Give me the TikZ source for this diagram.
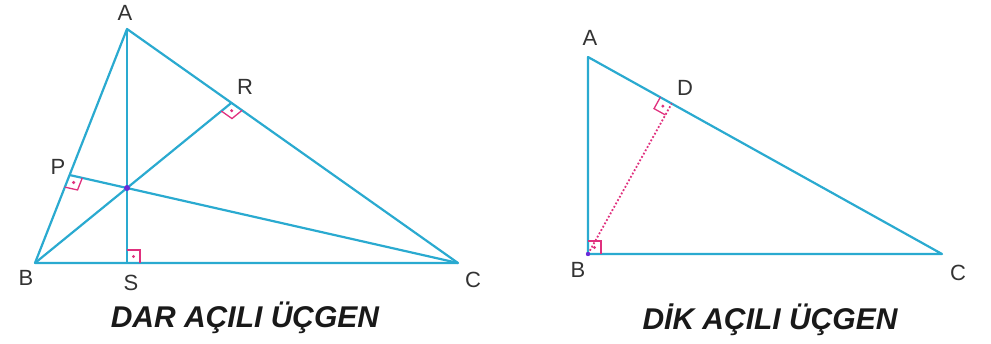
\documentclass[tikz,border=0pt]{standalone}
\usepackage{fontspec}
\setmainfont{Liberation Sans}
\usetikzlibrary{calc}
\definecolor{lineblue}{HTML}{2AAAD0}
\definecolor{markpink}{HTML}{E0307E}
\definecolor{dotpurple}{HTML}{6A2BD9}

\begin{document}
\begin{tikzpicture}[x=1pt,y=-1pt,
  side/.style={lineblue,line width=2.2pt,line join=round},
  anglemark/.style={markpink,line width=1.3pt},
  lbl/.style={font=\fontsize{22}{22}\selectfont,text=black!80},
  caption/.style={font=\fontsize{30}{30}\selectfont\bfseries\itshape,text=black!90}]
\useasboundingbox (0,0) rectangle (991,343);
% acute triangle
\coordinate (A) at (127,29);
\coordinate (B) at (35,263);
\coordinate (C) at (458,263);
\coordinate (H) at (127,188);
\coordinate (S) at (127,263);
\coordinate (R) at (intersection of B--H and A--C);
\coordinate (P) at (intersection of C--H and A--B);
\draw[side] (A)--(B)--(C)--cycle;
\draw[side] (A)--(S);
\draw[side] (B)--(R);
\draw[side] (C)--(P);
% right triangle
\coordinate (A2) at (588,57);
\coordinate (B2) at (588,254);
\coordinate (C2) at (942,254);
\coordinate (D) at ($(A2)!(B2)!(C2)$);
\draw[side] (A2)--(B2)--(C2)--cycle;
\draw[markpink,dotted,line width=1.8pt] (B2)--(D);
% right angle marks
\foreach \v/\p/\q in {S/A/C,P/B/C,R/B/C,B2/A2/C2,D/A2/B2}{
  \coordinate (m1) at ($(\v)!13pt!(\p)$);
  \coordinate (m2) at ($(\v)!13pt!(\q)$);
  \coordinate (m3) at ($(m1)+(m2)-(\v)$);
  \draw[anglemark] (m1)--(m3)--(m2);
  \fill[markpink] ($(\v)!0.5!(m3)$) circle (1.7);
}
\fill[dotpurple] (H) circle (3);
\fill[dotpurple] (B2) circle (2.2);
% labels
\node[lbl] (lA) at (125,13) {A};
\node[lbl] (lB) at (26,278) {B};
\node[lbl] (lC) at (473,280) {C};
\node[lbl] (lS) at (131,283) {S};
\node[lbl] (lP) at (58,167) {P};
\node[lbl] (lR) at (245,87) {R};
\node[lbl] (lA2) at (590,38) {A};
\node[lbl] (lB2) at (578,270) {B};
\node[lbl] (lC2) at (958,273) {C};
\node[lbl] (lD) at (685,88) {D};
\node[caption] (cap1) at (245,318) {DAR AÇILI ÜÇGEN};
\node[caption] (cap2) at (770,320) {DİK AÇILI ÜÇGEN};
\end{tikzpicture}
\end{document}
